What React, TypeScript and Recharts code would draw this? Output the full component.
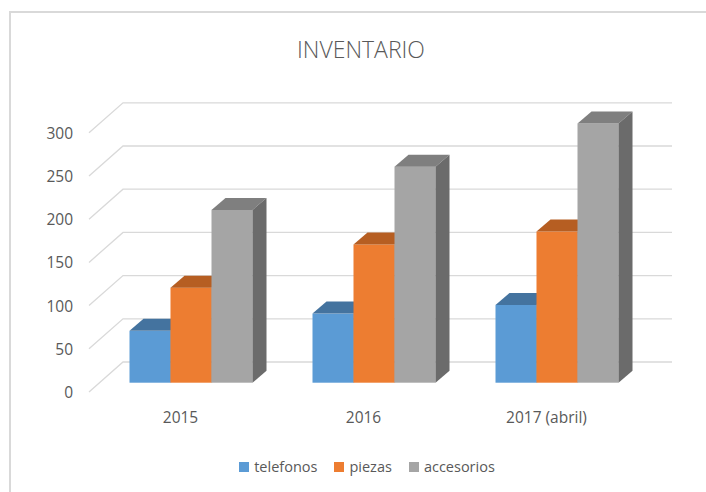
import React from 'react';
import { BarChart, Bar, XAxis, YAxis, CartesianGrid, Legend } from 'recharts';

const years = ['2015', '2016', '2017 (abril)'];
const telefonos = [60, 80, 90];
const piezas = [110, 160, 175];
const accesorios = [200, 250, 300];
const yTicks = [0, 50, 100, 150, 200, 250, 300];

const data = years.map((year, i) => ({
    year,
    telefonos: telefonos[i],
    piezas: piezas[i],
    accesorios: accesorios[i],
}));

const series = [
    { key: 'telefonos', front: '#5b9bd5', top: '#44739f', side: '#3d6a94' },
    { key: 'piezas', front: '#ed7d31', top: '#b65e22', side: '#a85520' },
    { key: 'accesorios', front: '#a5a5a5', top: '#7f7f7f', side: '#6b6b6b' },
];

const FONT = "'Open Sans', sans-serif";
const TEXT = '#595959';

// bars sit inside the 3D box; front edge of the floor is in front, back wall behind
const FRONT = { dx: -10.5, dy: 9.3 };
const BACK = { dx: 23.5, dy: -20.7 };
const BAR_DEPTH = { dx: 14, dy: -12 };

const box = (s: typeof series[number]) => (props: any) => {
    const { x, y, width, height } = props;
    if (!height || height <= 0) return <g />;
    const { dx, dy } = BAR_DEPTH;
    return (
        <g>
            <rect x={x} y={y} width={width} height={height} fill={s.front} />
            <polygon
                points={`${x},${y} ${x + dx},${y + dy} ${x + width + dx},${y + dy} ${x + width},${y}`}
                fill={s.top}
            />
            <polygon
                points={`${x + width},${y} ${x + width + dx},${y + dy} ${x + width + dx},${y + height + dy} ${x + width},${y + height}`}
                fill={s.side}
            />
        </g>
    );
};

const gridLine = (props: any) => {
    const { x1, x2, y1, key } = props;
    const pts = [
        [x1 + FRONT.dx, y1 + FRONT.dy],
        [x1 + BACK.dx, y1 + BACK.dy],
        [x2 + BACK.dx, y1 + BACK.dy],
    ];
    return (
        <polyline
            key={key}
            points={pts.map((p) => p.join(',')).join(' ')}
            fill="none"
            stroke="#d9d9d9"
            strokeWidth={1.3}
        />
    );
};

const YTick = (props: any) => {
    const { y, payload } = props;
    return (
        <text
            x={73}
            y={y + FRONT.dy}
            textAnchor="end"
            dominantBaseline="central"
            fill={TEXT}
            fontSize={15.5}
            fontFamily={FONT}
        >
            {payload.value}
        </text>
    );
};

const XTick = (props: any) => {
    const { x, y, payload } = props;
    return (
        <text
            x={x + FRONT.dx}
            y={y + 26}
            textAnchor="middle"
            dominantBaseline="central"
            fill={TEXT}
            fontSize={15.5}
            fontFamily={FONT}
        >
            {payload.value}
        </text>
    );
};

const LegendContent = () => (
    <div style={{ display: 'flex', justifyContent: 'center', gap: 17, fontFamily: FONT, fontSize: 14.5, color: TEXT }}>
        {series.map((s) => (
            <div key={s.key} style={{ display: 'flex', alignItems: 'center', gap: 5 }}>
                <span style={{ width: 10, height: 10, background: s.front, display: 'inline-block' }} />
                <span>{s.key}</span>
            </div>
        ))}
    </div>
);

export default function App() {
    return (
        <div style={{ position: 'absolute', left: 0, top: 0, width: 706, height: 492, overflow: 'hidden', background: '#fff' }}>
            <div
                style={{
                    position: 'absolute',
                    left: 9,
                    top: 11,
                    width: 740,
                    height: 540,
                    border: '2px solid #d9d9d9',
                    boxSizing: 'border-box',
                }}
            />
            <svg width={706} height={80} style={{ position: 'absolute', left: 0, top: 0 }}>
                <text
                    x={361}
                    y={58}
                    textAnchor="middle"
                    fill={TEXT}
                    fontSize={23}
                    fontWeight={300}
                    fontFamily={FONT}
                >
                    INVENTARIO
                </text>
            </svg>
            <div style={{ position: 'absolute', left: 0, top: 0 }}>
                <BarChart
                    width={706}
                    height={492}
                    data={data}
                    barSize={41}
                    barGap={0}
                    margin={{ top: 123.5, right: 57.5, bottom: 79.3, left: 39.5 }}
                >
                    <CartesianGrid vertical={false} horizontal={gridLine} />
                    <XAxis dataKey="year" axisLine={false} tickLine={false} tick={<XTick />} height={30} interval={0} />
                    <YAxis domain={[0, 300]} ticks={yTicks} axisLine={false} tickLine={false} tick={<YTick />} width={60} />
                    <Legend
                        verticalAlign="middle"
                        align="center"
                        layout="horizontal"
                        content={<LegendContent />}
                        wrapperStyle={{ top: 457, left: 0, width: 734 }}
                    />
                    {series.map((s) => (
                        <Bar key={s.key} dataKey={s.key} shape={box(s)} isAnimationActive={false} />
                    ))}
                </BarChart>
            </div>
        </div>
    );
}
